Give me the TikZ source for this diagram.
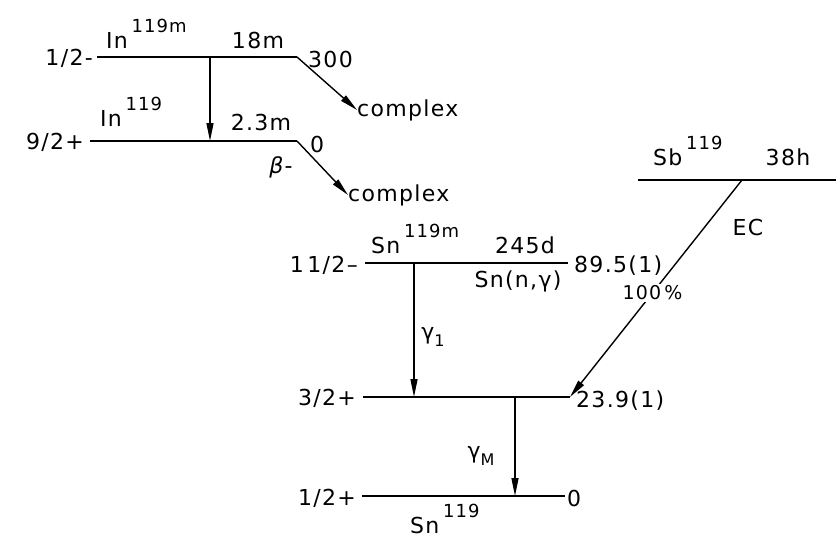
\documentclass[tikz,border=0pt]{standalone}
\usepackage{fontspec}
\setmainfont[LetterSpace=6]{DejaVu Sans}
\usetikzlibrary{arrows.meta}
\newcommand{\nucl}[2]{#1\,\raisebox{16pt}{\fontsize{18}{18}\selectfont #2}}
\newcommand{\gsub}[1]{γ\raisebox{-7pt}{\fontsize{16}{16}\selectfont #1}}

\begin{document}
\begin{tikzpicture}[
    x=1pt, y=-1pt,
    level/.style={line width=2.6pt},
    trans/.style={line width=1.4pt, -{Triangle[length=18pt,width=7pt]}},
    lbl/.style={font=\fontsize{22}{24}\selectfont, inner sep=0pt}
]
\useasboundingbox (0,0) rectangle (836,538);

% In 119 levels
\coordinate (inmL) at (97,57);  \coordinate (inmR) at (297,57);
\coordinate (ingL) at (90,141); \coordinate (ingR) at (297,141);
\draw[level] (inmL) -- (inmR);
\draw[level] (ingL) -- (ingR);
\node[lbl, anchor=east] (inmspin) at (93,58) {1/2-};
\node[lbl, anchor=east] (ingspin) at (84,142) {9/2+};
\node[lbl, anchor=base west] (inmname) at (106,48) {\nucl{In}{119m}};
\node[lbl, anchor=base west] (ingname) at (100,126) {\nucl{In}{119}};
\node[lbl] (inmhalf) at (258,40) {18m};
\node[lbl] (inghalf) at (261,122) {2.3m};
\node[lbl, anchor=west] (inmE) at (308,59) {300};
\node[lbl, anchor=west] (ingE) at (310,144) {0};
\node[lbl] (beta) at (281,167) {\textit{β}-};
\node[lbl, anchor=west] (cplxA) at (357,110) {complex};
\node[lbl, anchor=west] (cplxB) at (348,195) {complex};

\coordinate (init) at (210,57); \coordinate (inend) at (210,141);
\draw[trans] (init) -- (inend);
\draw[trans] (inmR) -- (cplxA.west);
\draw[trans] (ingR) -- (cplxB.west);

% Sb 119
\coordinate (sbL) at (638,180); \coordinate (sbR) at (836,180);
\draw[level] (sbL) -- (sbR);
\node[lbl, anchor=base west] (sbname) at (653,165) {\nucl{Sb}{119}};
\node[lbl] (sbhalf) at (788,157) {38h};
\node[lbl] (ec) at (748,227) {EC};

% Sn 119 levels
\coordinate (snmL) at (365,263); \coordinate (snmR) at (568,263);
\coordinate (sneL) at (363,397); \coordinate (sneR) at (570,397);
\coordinate (sngL) at (362,496); \coordinate (sngR) at (565,496);
\draw[level] (snmL) -- (snmR);
\draw[line width=1.8pt] (sneL) -- (sneR);
\draw[level] (sngL) -- (sngR);
\node[lbl, anchor=east] (snmspin) at (358,265) {1\,1/2–};
\node[lbl, anchor=east] (snespin) at (356,398) {3/2+};
\node[lbl, anchor=east] (sngspin) at (356,498) {1/2+};
\node[lbl, anchor=base west] (snmname) at (371,253) {\nucl{Sn}{119m}};
\node[lbl] (snmhalf) at (525,245) {245d};
\node[lbl] (snprod) at (518,281) {Sn(n,γ)};
\node[lbl, anchor=west] (snmE) at (574,266) {89.5(1)};
\node[lbl, anchor=west] (sneE) at (576,401) {23.9(1)};
\node[lbl, anchor=west] (sngE) at (567,498) {0};
\node[lbl, anchor=base west] (sngname) at (410,533) {\nucl{Sn}{119}};

\coordinate (g1top) at (414,263); \coordinate (g1bot) at (414,397);
\coordinate (gMtop) at (515,397); \coordinate (gMbot) at (515,496);
\coordinate (ectop) at (742,180);
\draw[trans] (g1top) -- (g1bot);
\draw[trans] (gMtop) -- (gMbot);
\node[lbl] (g1) at (433,337) {\gsub{1}};
\node[lbl] (gM) at (481,456) {\gsub{M}};
\draw[trans] (ectop) -- node[lbl, pos=0.52, fill=white, inner sep=2pt, font=\fontsize{19}{20}\selectfont] (ecpct) {100\,\%} (sneR);
\end{tikzpicture}
\end{document}
